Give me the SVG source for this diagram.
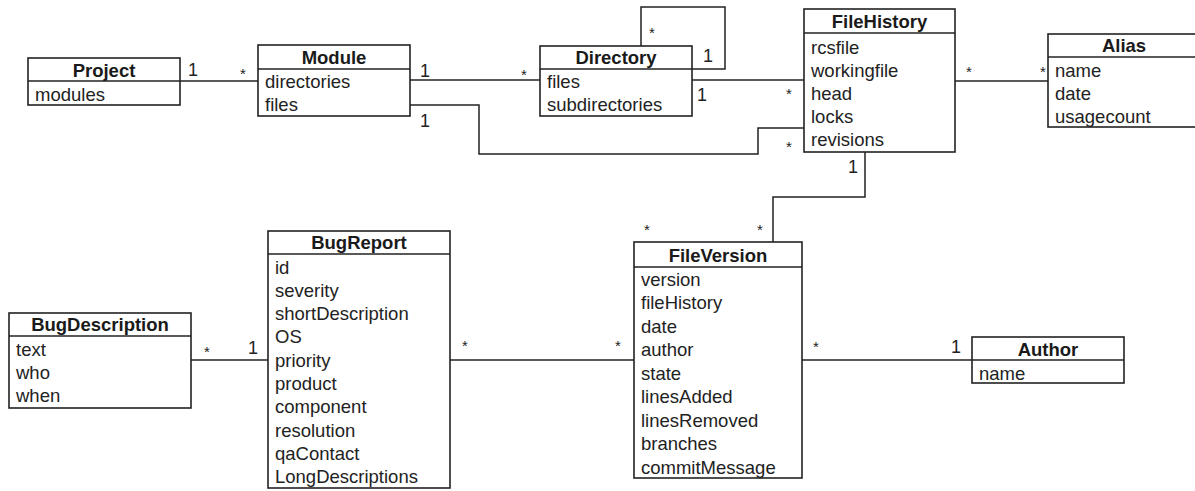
<svg xmlns="http://www.w3.org/2000/svg" width="1195" height="491" viewBox="0 0 1195 491">
<style>
  .box { fill: #fff; stroke: #222; stroke-width: 1.6; }
  .div { stroke: #222; stroke-width: 1.6; }
  .t { font-family: "Liberation Sans", Arial, sans-serif; font-size: 18.5px; font-weight: bold; fill: #1a1a1a; text-anchor: middle; }
  .a { font-family: "Liberation Sans", Arial, sans-serif; font-size: 18.5px; fill: #222; }
  .m { font-family: "Liberation Sans", Arial, sans-serif; font-size: 18px; fill: #222; text-anchor: middle; }
  .s { font-family: "Liberation Sans", Arial, sans-serif; font-size: 15px; fill: #222; text-anchor: middle; }
  .c { fill: none; stroke: #222; stroke-width: 1.5; }
</style>
<rect width="1195" height="491" fill="#fff"/>

<g id="connectors">
  <polyline class="c" points="180,81 258,81"/>
  <polyline class="c" points="410,80 540,80"/>
  <polyline class="c" points="641,46 641,7 725,7 725,69 692,69"/>
  <polyline class="c" points="692,80 804,80"/>
  <polyline class="c" points="410,105 479,105 479,154 758,154 758,128 804,128"/>
  <polyline class="c" points="955,81 1048,81"/>
  <polyline class="c" points="865,152 865,197 773,197 773,242"/>
  <polyline class="c" points="191,360 268,360"/>
  <polyline class="c" points="450,360 634,360"/>
  <polyline class="c" points="802,360 972,360"/>
  <text class="m" x="193" y="76">1</text>
  <text class="s" x="243" y="79">*</text>
  <text class="m" x="425" y="77">1</text>
  <text class="s" x="524" y="80">*</text>
  <text class="s" x="652" y="38">*</text>
  <text class="m" x="708" y="62">1</text>
  <text class="m" x="702" y="101">1</text>
  <text class="s" x="789" y="99">*</text>
  <text class="m" x="425" y="127">1</text>
  <text class="s" x="789" y="152">*</text>
  <text class="s" x="969" y="77">*</text>
  <text class="s" x="1043" y="77">*</text>
  <text class="m" x="853" y="173">1</text>
  <text class="s" x="760" y="235">*</text>
  <text class="s" x="647" y="235">*</text>
  <text class="s" x="207" y="357">*</text>
  <text class="m" x="253" y="354">1</text>
  <text class="s" x="465" y="351">*</text>
  <text class="s" x="618" y="351">*</text>
  <text class="s" x="816" y="352">*</text>
  <text class="m" x="956" y="353">1</text>
</g>

<g id="Project">
  <rect class="box" x="28" y="58" width="152" height="47"/>
  <line class="div" x1="28" y1="81" x2="180" y2="81"/>
  <text class="t" x="104" y="76.5">Project</text>
  <text class="a" x="35" y="100.5">modules</text>
</g>

<g id="Module">
  <rect class="box" x="258" y="45" width="152" height="71"/>
  <line class="div" x1="258" y1="69" x2="410" y2="69"/>
  <text class="t" x="334" y="63.5">Module</text>
  <text class="a" x="265" y="87.5">directories</text>
  <text class="a" x="265" y="110.5">files</text>
</g>

<g id="Directory">
  <rect class="box" x="540" y="46" width="152" height="70"/>
  <line class="div" x1="540" y1="69" x2="692" y2="69"/>
  <text class="t" x="616" y="64">Directory</text>
  <text class="a" x="547" y="87.5">files</text>
  <text class="a" x="547" y="110.5">subdirectories</text>
</g>

<g id="FileHistory">
  <rect class="box" x="804" y="9" width="151" height="143"/>
  <line class="div" x1="804" y1="33" x2="955" y2="33"/>
  <text class="t" x="879.5" y="27.5">FileHistory</text>
  <text class="a" x="811" y="53.5">rcsfile</text>
  <text class="a" x="811" y="76.5">workingfile</text>
  <text class="a" x="811" y="99.5">head</text>
  <text class="a" x="811" y="122.5">locks</text>
  <text class="a" x="811" y="145.5">revisions</text>
</g>

<g id="Alias">
  <rect class="box" x="1048" y="34" width="152" height="93"/>
  <line class="div" x1="1048" y1="57" x2="1200" y2="57"/>
  <text class="t" x="1124" y="52">Alias</text>
  <text class="a" x="1055" y="76.5">name</text>
  <text class="a" x="1055" y="99.5">date</text>
  <text class="a" x="1055" y="122.5">usagecount</text>
</g>

<g id="BugDescription">
  <rect class="box" x="9" y="313" width="182" height="95"/>
  <line class="div" x1="9" y1="336" x2="191" y2="336"/>
  <text class="t" x="100" y="331">BugDescription</text>
  <text class="a" x="16" y="355.5">text</text>
  <text class="a" x="16" y="378.5">who</text>
  <text class="a" x="16" y="401.5">when</text>
</g>

<g id="BugReport">
  <rect class="box" x="268" y="231" width="182" height="257"/>
  <line class="div" x1="268" y1="254" x2="450" y2="254"/>
  <text class="t" x="359" y="249">BugReport</text>
  <text class="a" x="275" y="273.5">id</text>
  <text class="a" x="275" y="296.8">severity</text>
  <text class="a" x="275" y="320.1">shortDescription</text>
  <text class="a" x="275" y="343.4">OS</text>
  <text class="a" x="275" y="366.7">priority</text>
  <text class="a" x="275" y="390">product</text>
  <text class="a" x="275" y="413.3">component</text>
  <text class="a" x="275" y="436.6">resolution</text>
  <text class="a" x="275" y="459.9">qaContact</text>
  <text class="a" x="275" y="483.2">LongDescriptions</text>
</g>

<g id="FileVersion">
  <rect class="box" x="634" y="242" width="168" height="236"/>
  <line class="div" x1="634" y1="267" x2="802" y2="267"/>
  <text class="t" x="718" y="261.5">FileVersion</text>
  <text class="a" x="641" y="285.5">version</text>
  <text class="a" x="641" y="309">fileHistory</text>
  <text class="a" x="641" y="332.5">date</text>
  <text class="a" x="641" y="356">author</text>
  <text class="a" x="641" y="379.5">state</text>
  <text class="a" x="641" y="403">linesAdded</text>
  <text class="a" x="641" y="426.5">linesRemoved</text>
  <text class="a" x="641" y="450">branches</text>
  <text class="a" x="641" y="473.5">commitMessage</text>
</g>

<g id="Author">
  <rect class="box" x="972" y="337" width="152" height="46"/>
  <line class="div" x1="972" y1="360" x2="1124" y2="360"/>
  <text class="t" x="1048" y="355.5">Author</text>
  <text class="a" x="979" y="379.5">name</text>
</g>
</svg>
